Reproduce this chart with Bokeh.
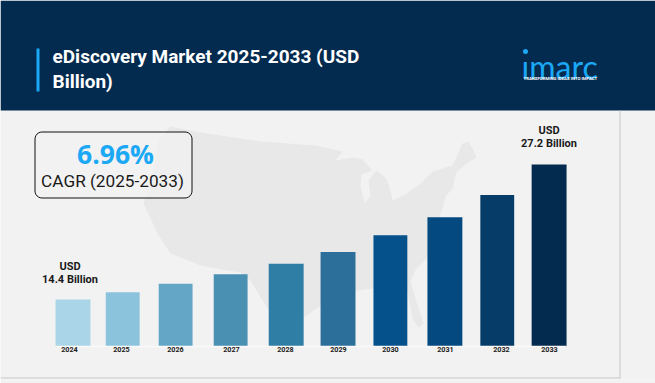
from math import cos, sin, pi
from bokeh.embed import file_html
from bokeh.resources import INLINE
from bokeh.plotting import figure
from bokeh.models import ColumnDataSource, Range1d, LinearAxis, FixedTicker
from bokeh.core.properties import value

# ---- data ----
years = [2024, 2025, 2026, 2027, 2028, 2029, 2030, 2031, 2032, 2033]
market_usd_billion = [14.4, 15.1, 15.9, 16.8, 17.8, 18.9, 20.5, 22.2, 24.3, 27.2]
title_lines = ["eDiscovery Market 2025-2033 (USD", "Billion)"]
cagr_value = "6.96%"
cagr_label = "CAGR (2025-2033)"
first_note = ["USD", "14.4 Billion"]
last_note = ["USD", "27.2 Billion"]

# ---- layout ----
W, H, FRAME_H, BASE = 655, 383, 379, 346
PX_PER_YEAR, PX_PER_USD = 52.9, 10.55
Y0 = 9.95
bar_colors = ["#aad5e8", "#8bc3dc", "#63a6c6", "#4a90b3", "#2f7ea6", "#2c6f9b",
              "#04518c", "#044a80", "#053c68", "#032b4f"]
bar_nudge_years = [0, -0.06, -0.06, -0.02, 0.03, 0.01, 0, 0.03, 0.02, 0]
bar_widths_years = [0.66, 0.64, 0.64, 0.64, 0.66, 0.66, 0.64, 0.66, 0.64, 0.66]
label_px = [69, 121, 175, 231, 285, 338, 390, 445, 501, 549]
ROBOTO = value("Roboto")

x0 = 2024 - 72.5 / PX_PER_YEAR
p = figure(width=W, height=H, toolbar_location=None, output_backend="svg",
           x_range=Range1d(x0, x0 + W / PX_PER_YEAR),
           y_range=Range1d(Y0 - (FRAME_H - BASE) / PX_PER_USD, Y0 + BASE / PX_PER_USD),
           x_axis_location=None, y_axis_location=None,
           min_border=0, min_border_bottom=H - FRAME_H,
           background_fill_color="#f2f2f2", border_fill_color="#f2f2f2",
           outline_line_color=None)
p.xgrid.visible = False
p.ygrid.visible = False
p.extra_x_ranges = {"px": Range1d(0, W)}
p.extra_y_ranges = {"px": Range1d(FRAME_H, 0)}
p.styles = {"position": "absolute", "left": "0px", "top": "0px"}
PX = dict(x_range_name="px", y_range_name="px")

# ---- backdrop map ----
us_x = [170, 200, 260, 315, 342, 335, 352, 362, 372, 361, 360, 364, 370, 368, 376, 386,
        390, 392, 405, 420, 432, 452, 458, 462, 468, 473, 476, 466, 456, 452, 445, 443,
        436, 427, 416, 410, 414, 423, 418, 412, 407, 395, 373, 357, 317, 300, 282, 275,
        262, 250, 240, 227, 200, 170, 157, 143, 152, 158]
us_y = [126, 132, 141, 145, 151, 160, 157, 159, 170, 174, 186, 202, 196, 180, 170, 178,
        190, 200, 194, 183, 171, 165, 152, 143, 141, 150, 157, 163, 172, 188, 196, 205,
        225, 257, 268, 280, 295, 323, 327, 318, 290, 283, 288, 290, 307, 320, 340, 320,
        300, 280, 272, 270, 265, 253, 233, 203, 175, 140]
p.patch(us_x, us_y, fill_color="#e8e8e8", line_color=None, **PX)

# ---- header ----
p.quad(left=0, right=W, top=0, bottom=110, fill_color="#032b4f", line_color=None, **PX)
p.quad(left=36, right=39, top=48, bottom=91, fill_color="#1ba8f5", line_color=None, **PX)
p.text([52, 52], [56, 81], text=title_lines, text_color="#ffffff", text_font=ROBOTO,
       text_font_style="bold", text_font_size="19px", text_baseline="middle", **PX)
p.text([521], [66], text=["ımarc"], text_color="#1ba8f5", text_font=value("Lato"),
       text_font_size="32px", text_baseline="middle", **PX)
p.scatter([525], [51], size=5, marker="circle", fill_color="#1ba8f5", line_color=None, **PX)
p.text([523], [78], text=["TRANSFORMING IDEAS INTO IMPACT"], text_color="#ffffff", text_font=ROBOTO,
       text_font_style="bold", text_font_size="4.3px", text_baseline="middle", **PX)

# ---- panel border ----
p.quad(left=619, right=620, top=110, bottom=378, fill_color="#c8c8c8", line_color=None, **PX)
p.quad(left=0, right=620, top=377, bottom=378, fill_color="#c8c8c8", line_color=None, **PX)

# ---- CAGR box ----
def rounded(l, t, r, b, rad=7, n=6):
    xs, ys = [], []
    for cx, cy, a0 in [(r - rad, t + rad, -90), (r - rad, b - rad, 0), (l + rad, b - rad, 90), (l + rad, t + rad, 180)]:
        for k in range(n + 1):
            a = (a0 + 90 * k / n) * pi / 180
            xs.append(cx + rad * cos(a))
            ys.append(cy + rad * sin(a))
    return xs, ys

bx, by = rounded(34.5, 131.5, 191.5, 197.5)
p.patch(bx, by, fill_color="#f2f2f2", fill_alpha=0.75, line_color="#111111", line_width=1, **PX)
p.text([115], [153], text=[cagr_value], text_color="#1ba8f5", text_font=value("Open Sans"),
       text_font_style="bold", text_font_size="26.5px", text_align="center", text_baseline="middle", **PX)
p.text([112], [180], text=[cagr_label], text_color="#1a1a1a", text_font=ROBOTO,
       text_font_size="17.2px", text_align="center", text_baseline="middle", **PX)

# ---- bars ----
bar_x = [y + n for y, n in zip(years, bar_nudge_years)]
src = ColumnDataSource(dict(x=bar_x, top=market_usd_billion, w=bar_widths_years, color=bar_colors))
p.vbar(x="x", top="top", bottom=Y0, width="w", fill_color="color", line_color=None, source=src)
p.line([55, 566], [346, 346], line_color="#fafafa", line_width=1.5, **PX)

# ---- notes ----
NOTE = dict(text_color="#1a1a1a", text_font=ROBOTO, text_font_style="bold", text_font_size="11px",
            text_align="center", text_baseline="middle")
p.text([69.5, 69.5], [266, 279], text=first_note, **NOTE, **PX)
p.text([548.5, 548.5], [130, 143], text=last_note, **NOTE, **PX)

# ---- year axis ----
axis = LinearAxis(x_range_name="px", ticker=FixedTicker(ticks=label_px),
                  major_label_overrides={k: str(y) for k, y in zip(label_px, years)},
                  axis_line_color=None, major_tick_line_color=None, minor_tick_line_color=None,
                  major_label_text_font="Roboto", major_label_text_font_style="bold",
                  major_label_text_font_size="7.2px", major_label_text_color="#1a1a1a",
                  major_label_standoff=-39)
p.add_layout(axis, "below")

open("out.html", "w").write(file_html(p, INLINE))
